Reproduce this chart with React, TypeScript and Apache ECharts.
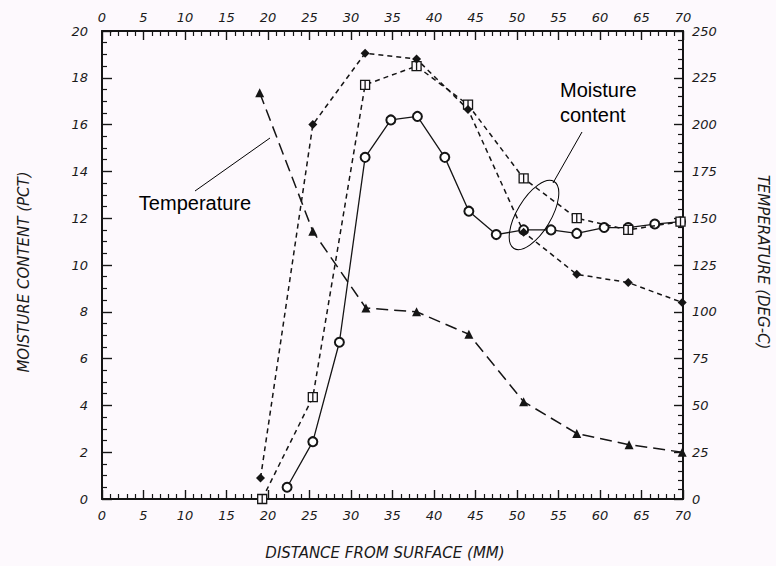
import React, { useEffect, useRef } from "react";
import * as echarts from "echarts";

// Distance from surface (mm) and moisture content (pct) / temperature (deg C)
const circleData: [number, number][] = [
  [22.3, 0.5], [25.4, 2.45], [28.6, 6.7], [31.7, 14.6], [34.8, 16.2], [38.0, 16.35],
  [41.3, 14.6], [44.2, 12.3], [47.5, 11.3], [50.8, 11.5], [54.1, 11.5], [57.2, 11.35],
  [60.5, 11.6], [63.4, 11.6], [66.6, 11.75], [69.7, 11.85],
];
const squareData: [number, number][] = [
  [19.3, 0], [25.4, 4.35], [31.7, 17.7], [37.9, 18.5], [44.1, 16.85], [50.8, 13.7],
  [57.2, 12.0], [63.4, 11.5], [69.7, 11.85],
];
const diamondData: [number, number][] = [
  [19.1, 0.9], [25.4, 16.0], [31.7, 19.05], [37.9, 18.8], [44.1, 16.65], [50.8, 11.4],
  [57.2, 9.6], [63.4, 9.25], [69.9, 8.4],
];
const temperatureData: [number, number][] = [
  [19.0, 217], [25.4, 143], [31.8, 102], [37.9, 100], [44.2, 88], [50.8, 52],
  [57.2, 35], [63.5, 29], [69.9, 25],
];

const xTitle = "DISTANCE FROM SURFACE (MM)";
const yLeftTitle = "MOISTURE CONTENT (PCT)";
const yRightTitle = "TEMPERATURE (DEG-C)";

const INK = "#151515";
const BG = "#fdf9fd";
const FONT = "DejaVu Sans";

const labelStyle = {
  color: "#1a1a1a",
  fontFamily: FONT,
  fontStyle: "italic" as const,
  fontSize: 13,
};

function xAxisCfg(position: "top" | "bottom") {
  return {
    type: "value",
    position,
    min: 0,
    max: 70,
    interval: 5,
    axisLine: { show: true, onZero: false, lineStyle: { color: INK, width: 2 } },
    axisTick: { show: true, inside: true, length: 9, lineStyle: { color: INK, width: 1.4 } },
    minorTick: { show: true, splitNumber: 5, length: 5, lineStyle: { color: INK, width: 1.2 } },
    splitLine: { show: false },
    axisLabel: { ...labelStyle, margin: position === "top" ? 7 : 10 },
  };
}

function nameText(text: string, x: number, y: number, rotation: number) {
  return {
    type: "text",
    x,
    y,
    rotation,
    style: {
      text,
      fill: "#1a1a1a",
      fontFamily: FONT,
      fontStyle: "italic",
      fontSize: 15,
      align: "center",
      verticalAlign: "middle",
    },
  };
}

export default function App() {
  const ref = useRef<HTMLDivElement>(null);
  useEffect(() => {
    if (!ref.current) return;
    const chart = echarts.init(ref.current, undefined, { renderer: "svg" });
    const squareSymbol = "path://M0,0L10,0L10,10L0,10Z M5,0L5,10";
    chart.setOption({
      animation: false,
      backgroundColor: BG,
      grid: { left: 102, right: 93, top: 31, bottom: 67, containLabel: false },
      xAxis: [xAxisCfg("bottom"), xAxisCfg("top")],
      yAxis: [
        {
          type: "value",
          position: "left",
          min: 0,
          max: 20,
          interval: 2,
          axisLine: { show: true, onZero: false, lineStyle: { color: INK, width: 2 } },
          axisTick: { show: true, inside: true, length: 10, lineStyle: { color: INK, width: 1.4 } },
          minorTick: { show: true, splitNumber: 4, length: 5, lineStyle: { color: INK, width: 1.2 } },
          splitLine: { show: false },
          axisLabel: { ...labelStyle, margin: 14 },
        },
        {
          type: "value",
          position: "right",
          min: 0,
          max: 250,
          interval: 25,
          axisLine: { show: true, onZero: false, lineStyle: { color: INK, width: 2 } },
          axisTick: { show: true, inside: true, length: 9, lineStyle: { color: INK, width: 1.4 } },
          minorTick: { show: true, splitNumber: 5, length: 5, lineStyle: { color: INK, width: 1.2 } },
          splitLine: { show: false },
          axisLabel: { ...labelStyle, margin: 9 },
        },
      ],
      series: [
        {
          name: "Moisture (circles)",
          type: "line",
          data: circleData,
          xAxisIndex: 0,
          yAxisIndex: 0,
          symbol: "emptyCircle",
          symbolSize: 9,
          lineStyle: { color: INK, width: 1.3, type: "solid" },
          itemStyle: { color: INK, borderColor: INK, borderWidth: 1.3 },
          z: 3,
        },
        {
          name: "Moisture (squares)",
          type: "line",
          data: squareData,
          xAxisIndex: 0,
          yAxisIndex: 0,
          symbol: squareSymbol,
          symbolSize: 9,
          lineStyle: { color: INK, width: 1.5, type: [5, 4] },
          itemStyle: { color: BG, borderColor: INK, borderWidth: 1.3 },
          z: 4,
        },
        {
          name: "Moisture (diamonds)",
          type: "line",
          data: diamondData,
          xAxisIndex: 0,
          yAxisIndex: 0,
          symbol: "diamond",
          symbolSize: 9,
          lineStyle: { color: INK, width: 1.5, type: [5, 4] },
          itemStyle: { color: INK },
          z: 5,
        },
        {
          name: "Temperature",
          type: "line",
          data: temperatureData,
          xAxisIndex: 0,
          yAxisIndex: 1,
          symbol: "triangle",
          symbolSize: 9,
          lineStyle: { color: INK, width: 1.5, type: [12, 6] },
          itemStyle: { color: INK },
          z: 5,
        },
      ],
      graphic: [
        nameText(yLeftTitle, 24, 272, Math.PI / 2),
        nameText(yRightTitle, 763, 262, -Math.PI / 2),
        nameText(xTitle, 385, 553, 0),
        {
          type: "text",
          x: 195,
          y: 203,
          z: 10,
          style: {
            text: "Temperature",
            fill: "#000",
            fontFamily: "Liberation Sans",
            fontSize: 20,
            align: "center",
            verticalAlign: "middle",
          },
        },
        {
          type: "line",
          z: 10,
          shape: { x1: 195, y1: 191, x2: 270, y2: 138 },
          style: { stroke: "#000", lineWidth: 1 },
        },
        {
          type: "text",
          x: 560,
          y: 90,
          z: 10,
          style: {
            text: "Moisture",
            fill: "#000",
            fontFamily: "Liberation Sans",
            fontSize: 20,
            align: "left",
            verticalAlign: "middle",
          },
        },
        {
          type: "text",
          x: 560,
          y: 115,
          z: 10,
          style: {
            text: "content",
            fill: "#000",
            fontFamily: "Liberation Sans",
            fontSize: 20,
            align: "left",
            verticalAlign: "middle",
          },
        },
        {
          type: "line",
          z: 10,
          shape: { x1: 582, y1: 132, x2: 553, y2: 183 },
          style: { stroke: "#000", lineWidth: 1 },
        },
        {
          type: "ellipse",
          z: 10,
          x: 534,
          y: 215,
          rotation: -0.54,
          shape: { cx: 0, cy: 0, rx: 17, ry: 39 },
          style: { fill: "none", stroke: "#000", lineWidth: 1 },
        },
      ],
    });
    return () => chart.dispose();
  }, []);
  return (
    <div
      ref={ref}
      style={{ position: "absolute", left: 0, top: 0, width: 776, height: 566 }}
    />
  );
}
